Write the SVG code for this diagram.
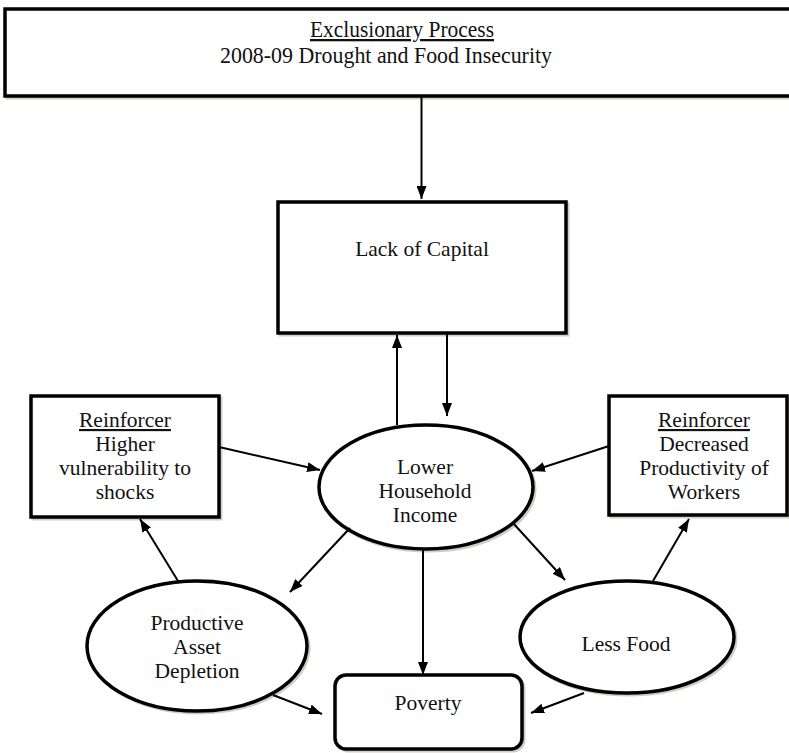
<svg xmlns="http://www.w3.org/2000/svg" width="789" height="753" viewBox="0 0 789 753">
<style>
.box{fill:#fff;stroke:#000;stroke-width:3.5}
.shadow{fill:none;stroke:#bdb8a8;stroke-width:3;opacity:0.7}
.t{font-family:"Liberation Serif","Times New Roman",serif;font-size:21.5px;fill:#111;text-anchor:middle}
.u{text-decoration:underline}
.conn path{fill:none;stroke:#000;stroke-width:2;marker-end:url(#ah)}
</style>
<defs>
<marker id="ah" viewBox="0 0 13 10" refX="13" refY="5" markerWidth="13" markerHeight="10" markerUnits="userSpaceOnUse" orient="auto">
<path d="M0,0 L13,5 L0,10 z" fill="#000"/>
</marker>
</defs>
<rect width="789" height="753" fill="#fff"/>

<g id="exclusionary">
<rect class="shadow" x="7" y="11" width="800" height="87"/>
<rect class="box" x="5" y="9" width="800" height="87"/>
<text class="t u" x="310" y="37" style="text-anchor:start;font-size:23px" textLength="184" lengthAdjust="spacingAndGlyphs">Exclusionary Process</text>
<text class="t" x="220" y="63" style="text-anchor:start;font-size:23px" textLength="332" lengthAdjust="spacingAndGlyphs">2008-09 Drought and Food Insecurity</text>
</g>

<g id="lack-of-capital">
<rect class="shadow" x="280" y="204" width="288" height="131"/>
<rect class="box" x="278" y="202" width="288" height="131"/>
<text class="t" x="422" y="256">Lack of Capital</text>
</g>

<g id="reinforcer-left">
<rect class="shadow" x="33" y="398" width="188" height="121"/>
<rect class="box" x="31" y="396" width="188" height="121"/>
<text class="t u" x="125" y="427">Reinforcer</text>
<text class="t" x="125" y="451">Higher</text>
<text class="t" x="125" y="475">vulnerability to</text>
<text class="t" x="125" y="499">shocks</text>
</g>

<g id="reinforcer-right">
<rect class="shadow" x="611" y="398" width="178" height="119"/>
<rect class="box" x="609" y="396" width="178" height="119"/>
<text class="t u" x="704" y="427">Reinforcer</text>
<text class="t" x="704" y="451">Decreased</text>
<text class="t" x="704" y="475">Productivity of</text>
<text class="t" x="704" y="499">Workers</text>
</g>

<g id="lower-household-income">
<ellipse class="shadow" cx="428" cy="489" rx="107" ry="62"/>
<ellipse class="box" cx="426" cy="487" rx="107" ry="62"/>
<text class="t" x="425" y="474">Lower</text>
<text class="t" x="425" y="498">Household</text>
<text class="t" x="425" y="522">Income</text>
</g>

<g id="productive-asset-depletion">
<ellipse class="shadow" cx="199" cy="648" rx="110" ry="65"/>
<ellipse class="box" cx="197" cy="646" rx="110" ry="65"/>
<text class="t" x="197" y="630">Productive</text>
<text class="t" x="197" y="654">Asset</text>
<text class="t" x="197" y="678">Depletion</text>
</g>

<g id="less-food">
<ellipse class="shadow" cx="629" cy="639" rx="107" ry="56"/>
<ellipse class="box" cx="627" cy="637" rx="107" ry="56"/>
<text class="t" x="626" y="651">Less Food</text>
</g>

<g id="poverty">
<rect class="shadow" x="337" y="677" width="187" height="74" rx="11"/>
<rect class="box" x="335" y="675" width="187" height="74" rx="11"/>
<text class="t" x="428" y="710">Poverty</text>
</g>

<g id="connectors" class="conn">
<path d="M421.5,96 L421.5,199"/>
<path d="M397,425 L397,335"/>
<path d="M447,334 L447,416"/>
<path d="M219,447 L320,470"/>
<path d="M609,446 L532,471"/>
<path d="M350,528 L290,592"/>
<path d="M513,523 L565,580"/>
<path d="M423,549 L423,675"/>
<path d="M178,581 L140,519"/>
<path d="M653,581 L689,519"/>
<path d="M273,695 L322,714"/>
<path d="M584,693 L531,713"/>
</g>
</svg>
